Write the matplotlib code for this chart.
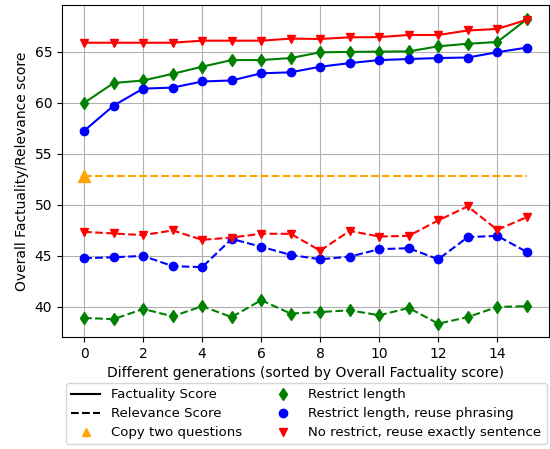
import matplotlib
matplotlib.use("Agg")
import matplotlib.pyplot as plt
from matplotlib.lines import Line2D

gens = list(range(16))

fact_restrict_length = [60.0, 61.95, 62.2, 62.85, 63.55, 64.2, 64.2, 64.4, 64.96, 65.0, 65.03, 65.05, 65.55, 65.8, 65.97, 68.2]
fact_reuse_phrasing = [57.26, 59.74, 61.4, 61.5, 62.1, 62.2, 62.9, 63.0, 63.55, 63.9, 64.2, 64.3, 64.4, 64.45, 64.97, 65.42]
fact_reuse_sentence = [65.9, 65.9, 65.9, 65.9, 66.1, 66.1, 66.1, 66.3, 66.27, 66.43, 66.45, 66.66, 66.66, 67.1, 67.25, 68.15]

rel_restrict_length = [38.92, 38.8, 39.8, 39.08, 40.07, 39.0, 40.66, 39.35, 39.5, 39.67, 39.18, 39.9, 38.36, 39.0, 40.0, 40.07]
rel_reuse_phrasing = [44.77, 44.87, 45.0, 44.0, 43.9, 46.67, 45.9, 45.1, 44.67, 44.93, 45.66, 45.76, 44.67, 46.84, 46.97, 45.39]
rel_reuse_sentence = [47.36, 47.2, 47.04, 47.5, 46.58, 46.8, 47.17, 47.17, 45.52, 47.46, 46.9, 46.97, 48.48, 49.86, 47.56, 48.8]

copy_two_questions = 52.88

fig = plt.figure(figsize=(5.5, 4.49), dpi=100)
ax = fig.add_axes([0.1127, 0.2494, 0.8853, 0.7395])

ax.plot(gens, fact_restrict_length, color='green', marker='d', linestyle='-')
ax.plot(gens, fact_reuse_phrasing, color='blue', marker='o', linestyle='-')
ax.plot(gens, fact_reuse_sentence, color='red', marker='v', linestyle='-')
ax.plot(gens, rel_restrict_length, color='green', marker='d', linestyle='--')
ax.plot(gens, rel_reuse_phrasing, color='blue', marker='o', linestyle='--')
ax.plot(gens, rel_reuse_sentence, color='red', marker='v', linestyle='--')
ax.plot(gens, [copy_two_questions] * len(gens), color='orange', linestyle='--')
ax.plot([0], [copy_two_questions], color='orange', marker='^', linestyle='None', markersize=8)

ax.set_xlim(-0.75, 15.75)
ax.set_ylim(37.05, 69.6)
ax.set_xticks([0, 2, 4, 6, 8, 10, 12, 14])
ax.grid(True)
ax.set_xlabel('Different generations (sorted by Overall Factuality score)')
ax.set_ylabel('Overall Factuality/Relevance score')

handles = [
    Line2D([], [], color='black', linestyle='-'),
    Line2D([], [], color='black', linestyle='--'),
    Line2D([], [], color='orange', marker='^', linestyle='None'),
    Line2D([], [], color='green', marker='d', linestyle='None'),
    Line2D([], [], color='blue', marker='o', linestyle='None'),
    Line2D([], [], color='red', marker='v', linestyle='None'),
]
labels = ['Factuality Score', 'Relevance Score', 'Copy two questions',
          'Restrict length', 'Restrict length, reuse phrasing', 'No restrict, reuse exactly sentence']
fig.legend(handles, labels, loc='upper center', bbox_to_anchor=(0.557, 0.147), ncol=2,
           fontsize=9.5, labelspacing=0.45, borderaxespad=0.0, handlelength=2.2)

fig.savefig('out.png', dpi=100)
